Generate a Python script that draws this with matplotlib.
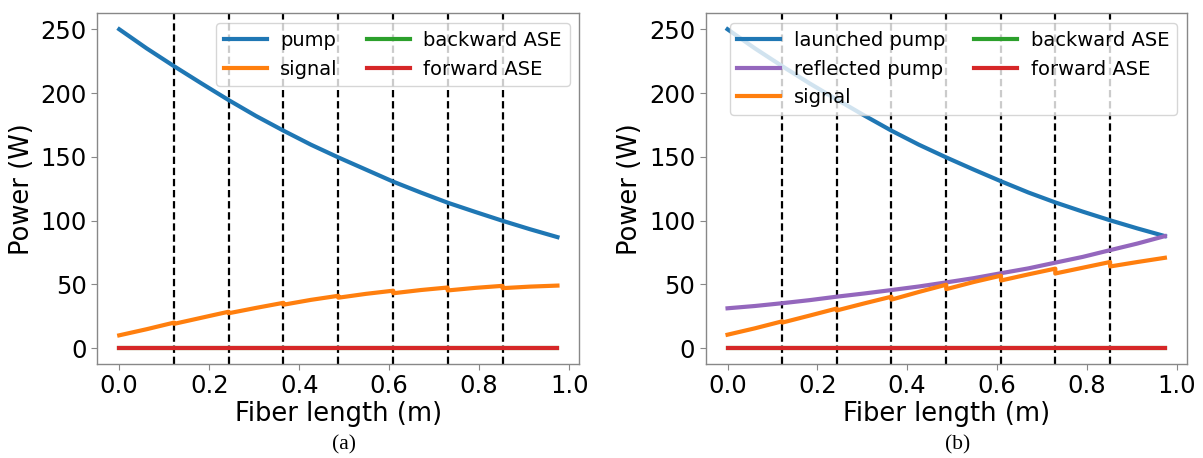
import matplotlib
matplotlib.use("Agg")
import matplotlib.pyplot as plt

# ---------------- data ----------------
# positions along the fiber (m): segment starts, mid-points and ends
z_nodes = [0.0, 0.061, 0.122, 0.183, 0.243, 0.304, 0.365, 0.426, 0.487,
           0.548, 0.609, 0.670, 0.730, 0.791, 0.852, 0.913, 0.974]
# splice positions (dashed lines)
splices = [0.122, 0.243, 0.365, 0.487, 0.609, 0.730, 0.852]

# panel (a)
pump_a = [250, 235, 221, 207.5, 194.5, 182, 170.5, 159.5, 149.5,
          140, 130.5, 122, 114, 106.8, 99.8, 93.2, 87]
# signal per segment: [start, middle, end]
signal_a = [[10, 14.8, 20], [19, 23.8, 28.5], [27.3, 31.5, 35.5],
            [34, 37.8, 41], [39.5, 42.5, 45], [43, 45.5, 47.5],
            [45.2, 47.2, 48.8], [47, 48.2, 49]]
bwd_ase_a = [0] * 17
fwd_ase_a = [0] * 17

# panel (b)
launched_b = [250, 235, 221, 207.5, 195, 182.5, 170.5, 159.5, 149.5,
              140, 130.8, 122, 114.2, 107, 100.2, 93.8, 87.8]
reflected_b = [31.2, 33, 35.2, 37.6, 40.3, 42.8, 45.5, 48.3, 51.5,
               54.8, 58.7, 62.5, 67, 71.5, 76.8, 82, 87.8]
signal_b = [[10.5, 15.5, 21], [20, 25.5, 31], [29.5, 35, 40.3],
            [38, 44, 49.7], [46.2, 51.8, 56.8], [53, 57.8, 62.3],
            [58.5, 63, 67.5], [64, 67.5, 70.8]]
bwd_ase_b = [0] * 17
fwd_ase_b = [0] * 17

xticks = [0.0, 0.2, 0.4, 0.6, 0.8, 1.0]
yticks = [0, 50, 100, 150, 200, 250]

C_BLUE, C_ORANGE, C_GREEN, C_RED, C_PURPLE = "#1f77b4", "#ff7f0e", "#2ca02c", "#d62728", "#9467bd"
LW = 3.0


def seg_xy(segments):
    xs, ys = [], []
    for k, seg in enumerate(segments):
        xs += z_nodes[2 * k:2 * k + 3]
        ys += seg
    return xs, ys


def style(ax):
    for s in ax.spines.values():
        s.set_color("#888888")
        s.set_linewidth(1.0)
    ax.tick_params(labelsize=17.5, colors="#888888", labelcolor="black", length=4)
    ax.set_xticks(xticks)
    ax.set_yticks(yticks)
    ax.set_xlim(-0.0487, 1.0227)
    ax.set_ylim(-12.5, 262.5)
    ax.set_xlabel("Fiber length (m)", fontsize=18.5, labelpad=2)
    ax.set_ylabel("Power (W)", fontsize=18.5, labelpad=4)
    for s in splices:
        ax.axvline(s, color="black", lw=1.6, ls=(0, (3.3, 1.7)), zorder=1)


fig = plt.figure(figsize=(12.03, 4.58), dpi=100)
axa = fig.add_axes([0.0809, 0.2052, 0.4007, 0.7657])
axb = fig.add_axes([0.5866, 0.2052, 0.3999, 0.7657])

leg_kw = dict(ncol=2, loc="upper right", fontsize=14, handlelength=2.2,
              handletextpad=0.7, columnspacing=1.5)

# (a)
axa.plot(z_nodes, pump_a, color=C_BLUE, lw=LW, label="pump", zorder=3)
sx, sy = seg_xy(signal_a)
axa.plot(sx, sy, color=C_ORANGE, lw=LW, label="signal", zorder=3)
axa.plot(z_nodes, bwd_ase_a, color=C_GREEN, lw=LW, label="backward ASE", zorder=3)
axa.plot(z_nodes, fwd_ase_a, color=C_RED, lw=LW, label="forward ASE", zorder=3)
style(axa)
axa.legend(**leg_kw)

# (b)
axb.plot(z_nodes, launched_b, color=C_BLUE, lw=LW, label="launched pump", zorder=3)
axb.plot(z_nodes, reflected_b, color=C_PURPLE, lw=LW, label="reflected pump", zorder=3)
sx, sy = seg_xy(signal_b)
axb.plot(sx, sy, color=C_ORANGE, lw=LW, label="signal", zorder=3)
axb.plot(z_nodes, bwd_ase_b, color=C_GREEN, lw=LW, label="backward ASE", zorder=3)
axb.plot(z_nodes, fwd_ase_b, color=C_RED, lw=LW, label="forward ASE", zorder=3)
style(axb)
axb.legend(**leg_kw)

fig.text(344 / 1203, 1 - 445 / 458, "(a)", ha="center", va="center",
         fontsize=15.5, family="Liberation Serif")
fig.text(958 / 1203, 1 - 445 / 458, "(b)", ha="center", va="center",
         fontsize=15.5, family="Liberation Serif")

fig.savefig("out.png", dpi=100)
